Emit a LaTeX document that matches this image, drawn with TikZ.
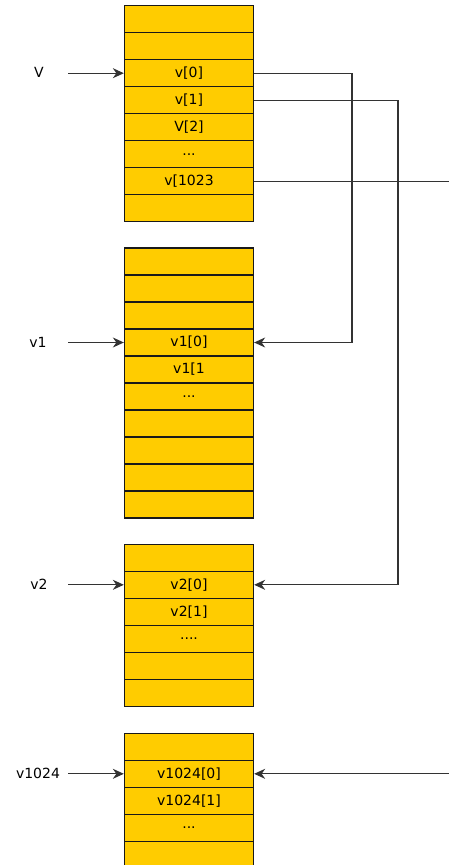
\documentclass[tikz,border=0pt]{standalone}
\usepackage{fontspec}
\setmainfont{DejaVu Sans}
\usepackage{tikz}
\usetikzlibrary{positioning,arrows.meta}
\definecolor{cellyellow}{HTML}{FFCC00}
\newcommand{\etcdots}{...}
\newcommand{\etcfour}{....}
\tikzset{
  cell/.style={rectangle, fill=cellyellow, draw=black!90, line width=1.3pt, minimum width=129pt, minimum height=27pt, inner sep=0pt, font=\fontsize{14}{16}\selectfont},
  lbl/.style={font=\fontsize{14}{16}\selectfont, inner sep=0pt},
  ptr/.style={draw=black!80, line width=1.2pt, -{Stealth[length=11pt,width=10pt,inset=3.5pt]}},
  wire/.style={draw=black!80, line width=1.2pt},
  memory/.style={x=1pt, y=-1pt}
}

\begin{document}
\begin{tikzpicture}[memory]
  \useasboundingbox (0,0) rectangle (449,865);
  % array of pointers
  \foreach \t [count=\i from 0] in {{},{},{v[0]},{v[1]},{V[2]},\etcdots,{v[1023},{}}
    \node[cell] (b1-\i) at (189,19.2+27*\i) {\t};
  % v1
  \foreach \t [count=\i from 0] in {{},{},{},{v1[0]},{v1[1},\etcdots,{},{},{},{}}
    \node[cell] (b2-\i) at (189,261.5+27*\i) {\t};
  % v2
  \foreach \t [count=\i from 0] in {{},{v2[0]},{v2[1]},\etcfour,{},{}}
    \node[cell] (b3-\i) at (189,557.8+27*\i) {\t};
  % v1024
  \foreach \t [count=\i from 0] in {{},{v1024[0]},{v1024[1]},\etcdots,{}}
    \node[cell] (b4-\i) at (189,746.8+27*\i) {\t};

  \node[lbl] (nV) at (39,72) {V};
  \node[lbl] (nv1) at (38,342) {v1};
  \node[lbl] (nv2) at (39,584) {v2};
  \node[lbl] (nv1024) at (38,773) {v1024};

  \coordinate (sV) at (68,73.2);
  \coordinate (sv1) at (68,342.5);
  \coordinate (sv2) at (68,584.8);
  \coordinate (sv1024) at (68,773.8);
  \draw[ptr] (sV) -- (b1-2.west);
  \draw[ptr] (sv1) -- (sv1 -| b2-3.west);
  \draw[ptr] (sv2) -- (sv2 -| b3-1.west);
  \draw[ptr] (sv1024) -- (sv1024 -| b4-1.west);

  \coordinate (j1) at (352,0);
  \coordinate (j2) at (398,0);
  \coordinate (edge) at (449,0);
  \draw[ptr] (b1-2.east) -- (b1-2.east -| j1) -- (b2-3.east -| j1) -- (b2-3.east);
  \draw[ptr] (b1-3.east) -- (b1-3.east -| j2) -- (b3-1.east -| j2) -- (b3-1.east);
  \draw[wire] (b1-6.east) -- (b1-6.east -| edge);
  \draw[ptr] (b4-1.east -| edge) -- (b4-1.east);
\end{tikzpicture}
\end{document}
